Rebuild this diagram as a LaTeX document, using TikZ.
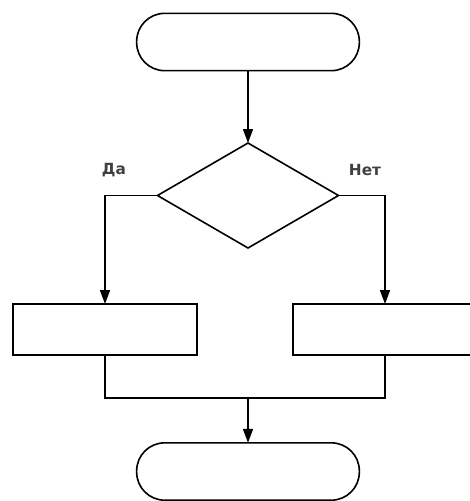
\documentclass[tikz,border=0pt]{standalone}
\usepackage{fontspec}
\setmainfont{DejaVu Sans}
\usetikzlibrary{arrows.meta,shapes.geometric}
\begin{document}
\begin{tikzpicture}[x=0.75pt,y=-0.75pt,
  line width=1.2pt,
  every node/.style={draw=none,inner sep=0pt,outer sep=0pt},
  terminal/.style={draw,line width=1.2pt,rectangle,rounded corners=21pt,minimum width=167pt,minimum height=43pt},
  process/.style={draw,line width=1.2pt,rectangle,minimum width=138pt,minimum height=38.25pt},
  decision/.style={draw,line width=1.2pt,diamond,minimum width=135.75pt,minimum height=78.75pt},
  flow/.style={-{Triangle[length=10.5pt,width=7.5pt]}},
  branchlabel/.style={font=\bfseries\fontsize{11.5}{13}\selectfont,text=black!75}]
  \useasboundingbox (0,0) rectangle (470,501);
  \clip (0,0) rectangle (470,501);
  % blocks
  \node[terminal] (start) at (248,42) {};
  \node[decision] (dec) at (248,195.5) {};
  \node[process] (yes) at (105,329.5) {};
  \node[process] (no) at (385,329.5) {};
  \node[terminal] (stop) at (248,471.5) {};
  \coordinate (merge) at (248,398);
  % branch labels
  \node[branchlabel] (lyes) at (114,170) {Да};
  \node[branchlabel] (lno) at (365,170) {Нет};
  % connectors
  \draw[flow] (start.south) -- (dec.north);
  \draw[flow] (dec.west) -| (yes.north);
  \draw[flow] (dec.east) -| (no.north);
  \draw (yes.south) |- (merge) -| (no.south);
  \draw[flow] (merge) -- (stop.north);
\end{tikzpicture}
\end{document}
